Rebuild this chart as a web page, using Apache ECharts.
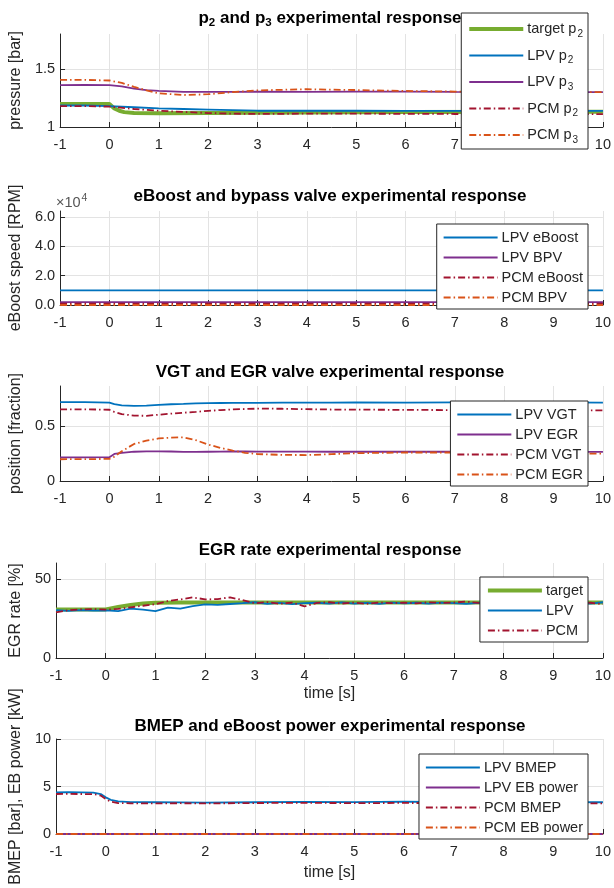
<!DOCTYPE html>
<html><head><meta charset="utf-8">
<script src="https://cdn.jsdelivr.net/npm/echarts@6/dist/echarts.min.js"></script>
<style>html,body{margin:0;padding:0;background:#fff}#c{width:614px;height:888px}</style>
</head><body><div id="c"></div>
<script>
// ---------- data ----------
// Plot 1: pressure [bar]
const t1Target = [-1, 0, 0.1, 0.2, 0.3, 0.5, 1, 3, 6, 10];
const targetP2 = [1.198, 1.198, 1.16, 1.14, 1.128, 1.12, 1.118, 1.122, 1.128, 1.132];
const t1 = [-1, -0.5, 0, 0.5, 1, 1.5, 2, 2.5, 3, 4, 5, 6, 7, 8, 9, 10];
const lpvP2 = [1.185, 1.185, 1.18, 1.17, 1.16, 1.155, 1.15, 1.145, 1.14, 1.14, 1.14, 1.138, 1.138, 1.138, 1.138, 1.138];
const pcmP2 = [1.18, 1.18, 1.175, 1.155, 1.14, 1.13, 1.12, 1.115, 1.112, 1.115, 1.115, 1.113, 1.112, 1.112, 1.11, 1.11];
const t1b = [-1, -0.5, 0, 0.25, 0.5, 0.75, 1, 1.5, 2, 2.5, 3, 4, 5, 6, 7, 8, 9, 10];
const lpvP3 = [1.36, 1.362, 1.36, 1.35, 1.33, 1.318, 1.31, 1.302, 1.302, 1.303, 1.305, 1.302, 1.305, 1.305, 1.302, 1.3, 1.3, 1.3];
const pcmP3 = [1.405, 1.405, 1.4, 1.38, 1.345, 1.315, 1.29, 1.275, 1.282, 1.3, 1.315, 1.325, 1.318, 1.31, 1.305, 1.3, 1.3, 1.3];

// Plot 2: eBoost speed [RPM]
const t2 = [-1, 10];
const lpvEboost = [10000, 10000];
const lpvBpv = [2000, 2000];
const pcmEboost = [1000, 1000];
const pcmBpv = [0, 0];

// Plot 3: position [fraction]
const t3 = [-1, -0.5, 0, 0.1, 0.25, 0.5, 0.75, 1, 1.25, 1.5, 1.75, 2, 2.25, 2.5, 2.75, 3, 3.5, 4, 4.5, 5, 6, 7, 8, 9, 10];
const lpvVgt = [0.714, 0.714, 0.71, 0.695, 0.685, 0.68, 0.683, 0.69, 0.695, 0.698, 0.702, 0.705, 0.706, 0.707, 0.708, 0.708, 0.709, 0.71, 0.71, 0.712, 0.71, 0.712, 0.712, 0.711, 0.71];
const pcmVgt = [0.649, 0.649, 0.645, 0.625, 0.605, 0.592, 0.59, 0.6, 0.61, 0.618, 0.626, 0.635, 0.642, 0.648, 0.652, 0.655, 0.654, 0.65, 0.647, 0.646, 0.644, 0.642, 0.642, 0.641, 0.64];
const lpvEgr = [0.214, 0.214, 0.216, 0.245, 0.255, 0.265, 0.268, 0.268, 0.267, 0.264, 0.264, 0.265, 0.266, 0.267, 0.267, 0.266, 0.266, 0.266, 0.265, 0.265, 0.265, 0.265, 0.264, 0.264, 0.263];
const pcmEgr = [0.197, 0.198, 0.2, 0.22, 0.27, 0.335, 0.365, 0.385, 0.393, 0.395, 0.37, 0.33, 0.3, 0.275, 0.255, 0.244, 0.236, 0.235, 0.243, 0.252, 0.258, 0.258, 0.252, 0.25, 0.247];

// Plot 4: EGR rate [%]
const t4Target = [-1, 0, 0.25, 0.5, 0.75, 1, 1.5, 10];
const targetEgr = [30.7, 30.7, 32.2, 33.5, 34.4, 34.9, 35, 35];
const t4 = [-1, -0.75, -0.5, -0.25, 0, 0.25, 0.5, 0.75, 1, 1.25, 1.5, 1.75, 2, 2.25, 2.5, 2.75, 3, 3.25, 3.5, 3.75, 4, 4.25, 4.5, 4.75, 5, 5.25, 5.5, 5.75, 6, 6.25, 6.5, 6.75, 7, 7.25, 7.5, 7.75, 8, 8.25, 8.5, 8.75, 9, 9.25, 9.5, 9.75, 10];
const lpvEgrRate = [30.3, 29.8, 30.2, 29.9, 30.1, 29.6, 31.2, 30.6, 29.6, 31.8, 31.2, 32.8, 33.9, 33.5, 34.1, 34.6, 35.2, 34.2, 34.8, 34.0, 34.6, 34.9, 34.3, 35.1, 34.4, 34.8, 34.2, 35.0, 34.5, 34.9, 34.3, 35.0, 34.6, 34.2, 34.9, 34.5, 35.0, 34.4, 34.8, 34.6, 34.3, 35.0, 34.7, 34.4, 35.2];
const pcmEgrRate = [28.8, 30.2, 30.7, 30.9, 30.6, 31.0, 32.0, 33.0, 34.0, 36.0, 37.0, 38.3, 37.0, 37.2, 38.3, 36.6, 34.5, 35.3, 34.2, 35.0, 32.6, 34.8, 35.2, 34.4, 35.0, 34.2, 35.1, 34.6, 35.0, 34.5, 35.2, 34.7, 35.0, 35.6, 34.8, 35.2, 34.6, 35.3, 34.8, 35.1, 34.5, 35.2, 34.6, 34.9, 34.0];

// Plot 5: BMEP [bar], EB power [kW]
const t5 = [-1, -0.75, -0.5, -0.25, -0.1, 0, 0.1, 0.25, 0.5, 1, 1.5, 2, 3, 4, 5, 6, 7, 8, 9, 10];
const lpvBmep = [4.39, 4.4, 4.38, 4.36, 4.2, 3.86, 3.6, 3.44, 3.36, 3.34, 3.32, 3.3, 3.34, 3.38, 3.36, 3.4, 3.36, 3.35, 3.36, 3.34];
const pcmBmep = [4.21, 4.22, 4.21, 4.2, 4.05, 3.68, 3.4, 3.26, 3.23, 3.22, 3.24, 3.22, 3.26, 3.28, 3.25, 3.27, 3.24, 3.23, 3.24, 3.22];
const t5b = [-1, 10];
const lpvEbPower = [0, 0];
const pcmEbPower = [0, 0];

// x tick range
const xTicks = [-1, 0, 1, 2, 3, 4, 5, 6, 7, 8, 9, 10];

// ---------- styling ----------
const C = { blue: '#0072BD', orange: '#D95319', purple: '#7E2F8E', green: '#77AC30', red: '#A2142F' };
const FONT = "'Liberation Sans', Arial, Helvetica, sans-serif";
const AX = '#262626';
const GRIDC = '#e3e3e3';
const DASHDOT = [7, 3, 1.5, 3];

const grids = [
  { top: 34, height: 93 },
  { top: 211, height: 94 },
  { top: 386, height: 95 },
  { top: 563, height: 95 },
  { top: 739, height: 95 }
].map(g => Object.assign({ left: 56, right: 10 }, g));

function pair(t, v) { return t.map((x, i) => [x, v[i]]); }

function xAxis(i, name, gap) {
  return {
    type: 'value', gridIndex: i, min: xTicks[0], max: xTicks[xTicks.length - 1], interval: 1,
    name: name || '', nameLocation: 'middle', nameGap: gap || 29,
    nameTextStyle: { fontFamily: FONT, fontSize: 16, color: AX },
    axisLine: { show: true, onZero: false, lineStyle: { color: AX, width: 1 } },
    axisTick: { show: true, inside: true, length: 5, lineStyle: { color: AX } },
    axisLabel: { fontFamily: FONT, fontSize: 14.5, color: AX, margin: 10 },
    splitLine: { show: true, lineStyle: { color: GRIDC, width: 1 } }
  };
}
function yAxis(i, o) {
  return Object.assign({
    type: 'value', gridIndex: i,
    nameLocation: 'middle', nameRotate: 90, nameGap: 32,
    nameTextStyle: { fontFamily: FONT, fontSize: 16, color: AX },
    axisLine: { show: true, onZero: false, lineStyle: { color: AX, width: 1 } },
    axisTick: { show: true, inside: true, length: 5, lineStyle: { color: AX } },
    axisLabel: { fontFamily: FONT, fontSize: 14.5, color: AX, margin: 5, showMaxLabel: o.showMax !== false },
    splitLine: { show: true, showMaxLine: o.showMax !== false, lineStyle: { color: GRIDC, width: 1 } }
  }, o.cfg);
}

function line(name, i, t, v, color, opts) {
  opts = opts || {};
  return {
    type: 'line', name: name, xAxisIndex: i, yAxisIndex: i,
    data: pair(t, v), symbol: 'none', showSymbol: false, smooth: false,
    lineStyle: { color: color, width: opts.width || 1.8, type: opts.dash ? DASHDOT : 'solid' },
    itemStyle: { color: color },
    z: opts.z || 2
  };
}

const series = [
  line('target p2', 0, t1Target, targetP2, C.green, { width: 4 }),
  line('LPV p2', 0, t1, lpvP2, C.blue),
  line('LPV p3', 0, t1b, lpvP3, C.purple),
  line('PCM p2', 0, t1, pcmP2, C.red, { dash: true }),
  line('PCM p3', 0, t1b, pcmP3, C.orange, { dash: true }),

  line('LPV eBoost', 1, t2, lpvEboost, C.blue),
  line('LPV BPV', 1, t2, lpvBpv, C.purple),
  line('PCM eBoost', 1, t2, pcmEboost, C.red, { dash: true }),
  line('PCM BPV', 1, t2, pcmBpv, C.orange, { dash: true }),

  line('LPV VGT', 2, t3, lpvVgt, C.blue),
  line('LPV EGR', 2, t3, lpvEgr, C.purple),
  line('PCM VGT', 2, t3, pcmVgt, C.red, { dash: true }),
  line('PCM EGR', 2, t3, pcmEgr, C.orange, { dash: true }),

  line('target', 3, t4Target, targetEgr, C.green, { width: 4 }),
  line('LPV', 3, t4, lpvEgrRate, C.blue),
  line('PCM', 3, t4, pcmEgrRate, C.red, { dash: true }),

  line('LPV BMEP', 4, t5, lpvBmep, C.blue),
  line('LPV EB power', 4, t5b, lpvEbPower, C.purple),
  line('PCM BMEP', 4, t5, pcmBmep, C.red, { dash: true }),
  line('PCM EB power', 4, t5b, pcmEbPower, C.orange, { dash: true })
];

function legend(names, top, gap, sub) {
  const l = {
    data: names, orient: 'vertical', right: 26, top: top,
    itemWidth: 54, itemHeight: 14, itemGap: gap,
    itemStyle: { opacity: 0, borderWidth: 0 },
    lineStyle: { width: 'inherit', type: 'inherit' },
    backgroundColor: '#fff', borderColor: AX, borderWidth: 1, borderRadius: 0,
    padding: [6, 5, 4, 6], z: 10, selectedMode: false,
    textStyle: { fontFamily: FONT, fontSize: 14.5, color: AX, padding: [0, 0, 0, -1] }
  };
  if (sub) {
    l.formatter = function (n) { const m = n.match(/^(.*p)(\d)$/); return '{n|' + m[1] + '}{s|' + m[2] + '}'; };
    l.textStyle.rich = {
      n: { fontFamily: FONT, fontSize: 14.5, color: AX, lineHeight: 20, verticalAlign: 'middle' },
      s: { fontFamily: FONT, fontSize: 10, color: AX, lineHeight: 20, padding: [10, 0, 0, 1] }
    };
  }
  return l;
}

const titleStyle = { fontFamily: FONT, fontSize: 17, fontWeight: 'bold', color: '#000' };
function title(text, top, rich) {
  const t = { text: text, left: 330, top: top, textAlign: 'center', padding: 0, textStyle: Object.assign({}, titleStyle) };
  if (rich) t.textStyle.rich = rich;
  return t;
}

const option = {
  animation: false,
  backgroundColor: '#fff',
  title: [
    title('{b|p}{s|2}{b| and p}{s|3}{b| experimental response}', 8, {
      b: Object.assign({}, titleStyle, { lineHeight: 20 }),
      s: { fontFamily: FONT, fontSize: 11.5, fontWeight: 'bold', color: '#000', lineHeight: 20, padding: [9, 0, 0, 0] }
    }),
    title('eBoost and bypass valve experimental response', 188),
    title('VGT and EGR valve experimental response', 364),
    title('EGR rate experimental response', 542),
    title('BMEP and eBoost power experimental response', 718),
    { text: '{a|×10}{s|4}', left: 56, top: 190, padding: 0,
      textStyle: { fontWeight: 'normal', rich: {
        a: { fontFamily: FONT, fontSize: 14.5, fontWeight: 'normal', color: '#555', lineHeight: 20, padding: [6, 0, 0, 0] },
        s: { fontFamily: FONT, fontSize: 10.5, fontWeight: 'normal', color: '#555', lineHeight: 20, padding: [0, 0, 4, 1] }
      } } }
  ],
  legend: [
    legend(['target p2', 'LPV p2', 'LPV p3', 'PCM p2', 'PCM p3'], 13, 6.5, true),
    legend(['LPV eBoost', 'LPV BPV', 'PCM eBoost', 'PCM BPV'], 224, 5),
    legend(['LPV VGT', 'LPV EGR', 'PCM VGT', 'PCM EGR'], 401, 5),
    legend(['target', 'LPV', 'PCM'], 577, 5),
    legend(['LPV BMEP', 'LPV EB power', 'PCM BMEP', 'PCM EB power'], 754, 5)
  ],
  grid: grids,
  xAxis: [xAxis(0), xAxis(1), xAxis(2), xAxis(3, 'time [s]', 28), xAxis(4, 'time [s]', 31)],
  yAxis: [
    yAxis(0, { showMax: false, cfg: { name: 'pressure [bar]', min: 1, max: 1.8, interval: 0.5 } }),
    yAxis(1, { showMax: false, cfg: { name: 'eBoost speed [RPM]', min: 0, max: 64000, interval: 20000,
      axisLabel: { fontFamily: FONT, fontSize: 14.5, color: AX, margin: 5, showMaxLabel: false, formatter: v => (v / 1e4).toFixed(1) } } }),
    yAxis(2, { showMax: false, cfg: { name: 'position [fraction]', min: 0, max: 0.86, interval: 0.5 } }),
    yAxis(3, { showMax: false, cfg: { name: 'EGR rate [%]', min: 0, max: 60, interval: 50, nameGap: 28 } }),
    yAxis(4, { cfg: { name: 'BMEP [bar], EB power [kW]', min: 0, max: 10, interval: 5 } })
  ],
  series: series
};

const chart = echarts.init(document.getElementById('c'), null, { renderer: 'canvas' });
chart.setOption(option);
</script>
</body></html>
